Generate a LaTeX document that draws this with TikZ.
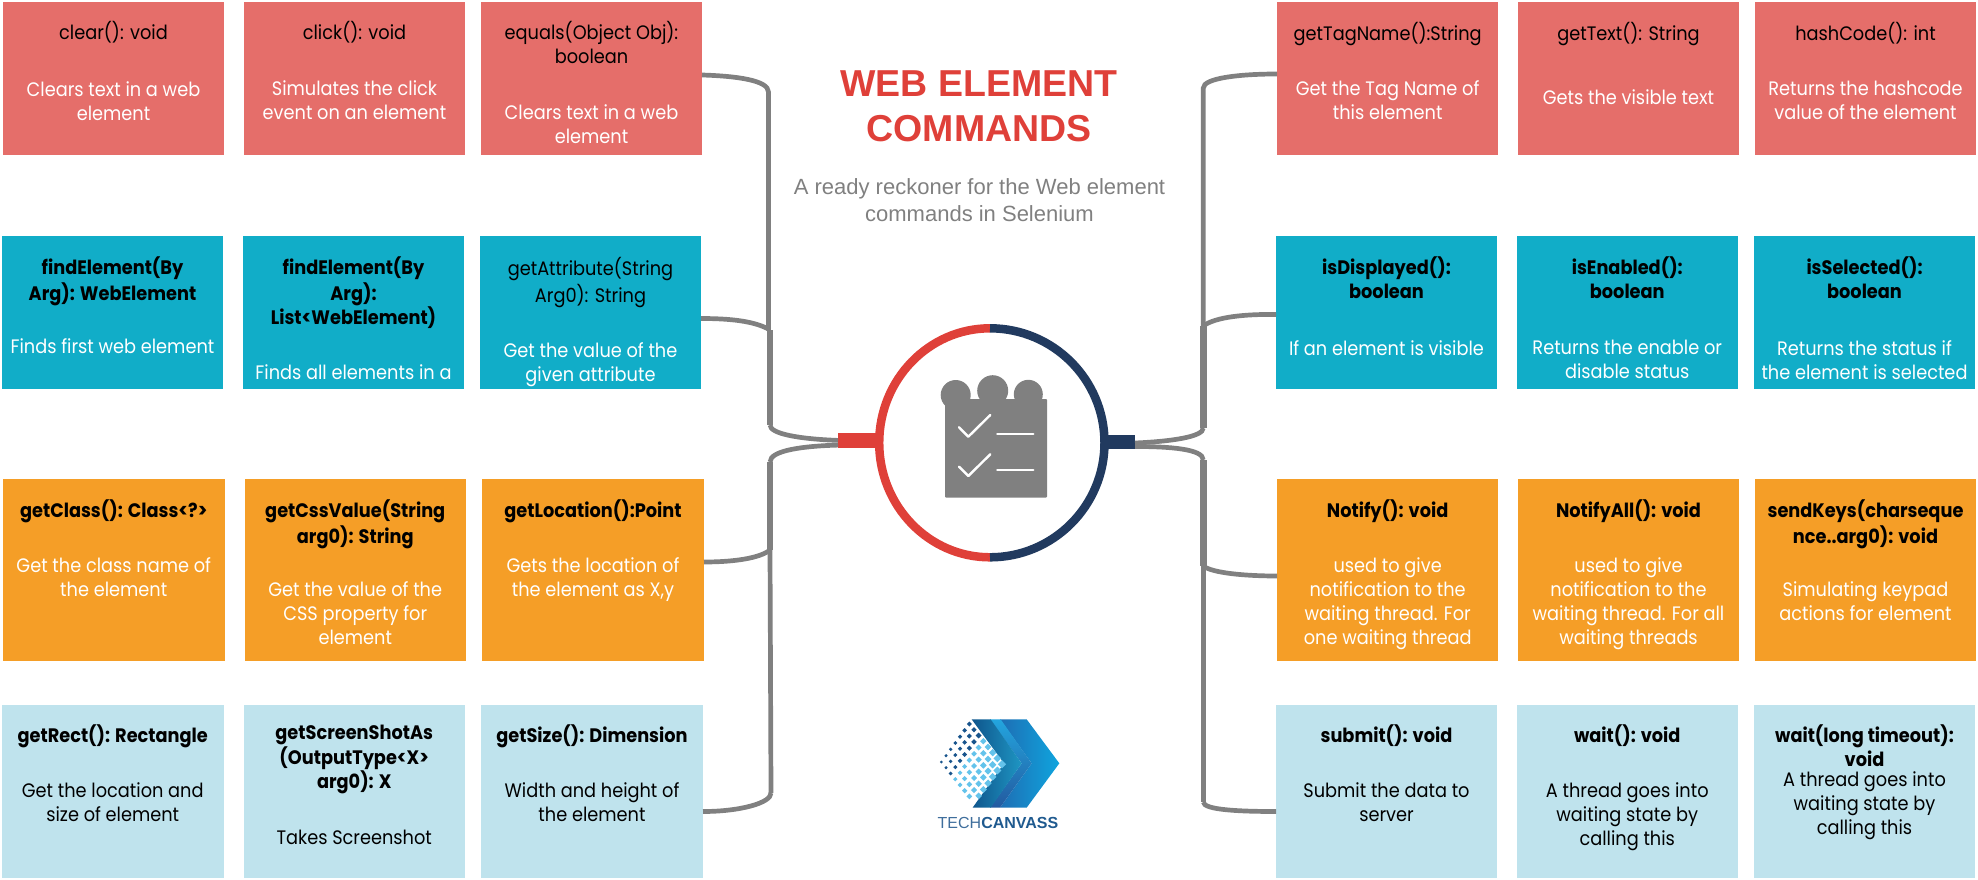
\documentclass[tikz,border=0pt]{standalone}
\usepackage{fontspec}
\setmainfont{Poppins}[FakeStretch=0.91]
\newfontfamily\arialf{Liberation Sans}
\usetikzlibrary{calc}
\definecolor{cred}{HTML}{E56E6A}
\definecolor{cteal}{HTML}{11ADC8}
\definecolor{corange}{HTML}{F59E27}
\definecolor{clight}{HTML}{BFE3ED}
\definecolor{tred}{HTML}{DF4039}
\definecolor{tnavy}{HTML}{213A5F}
\definecolor{cgray}{HTML}{808080}
\definecolor{lgA}{HTML}{1E6EB4}
\definecolor{lgB}{HTML}{0FA5DE}
\definecolor{lgC}{HTML}{23A5DE}
\definecolor{lgD}{HTML}{235AA0}
\definecolor{lgE}{HTML}{0F558C}
\definecolor{lgF}{HTML}{1E96C3}
\definecolor{lgdark}{HTML}{18548C}
\definecolor{lglight}{HTML}{64C3EB}
\definecolor{lgtech}{HTML}{3F6E9C}
\definecolor{lgcanv}{HTML}{1F5A8F}
\tikzset{
 cmdbox/.style={rectangle,inner sep=0pt,outer sep=0pt,draw=none},
 redbox/.style={cmdbox,fill=cred},
 tealbox/.style={cmdbox,fill=cteal},
 orangebox/.style={cmdbox,fill=corange},
 lightbox/.style={cmdbox,fill=clight},
 base text/.style={anchor=north,inner sep=0pt,align=center,font={\fontsize{19.5}{24}\selectfont}},
 tn/.style={base text,text=black,yshift=0.5pt},
 tb/.style={base text,text=black,yshift=0.5pt,font={\fontsize{19.5}{24}\selectfont\bfseries}},
 dw/.style={base text,text=white,yshift=-2pt},
 dk/.style={base text,text=black,yshift=-2pt},
 conn/.style={draw=cgray,line width=4.7pt},
 connthick/.style={draw=cgray,line width=6.6pt},
}
\newcommand{\cbox}[6]{\node[#2,minimum width={(#5-#3)*1pt},minimum height={(#6-#4)*1pt}] (#1) at ({(#3+#5)/2},{(#4+#6)/2}) {};}
\newcommand{\ctxt}[5]{\coordinate (tmp) at (0,#4-17); \node[#3] (#1#2) at (#1.center |- tmp) {\rule[-7pt]{0pt}{17pt}#5};}
\begin{document}
\begin{tikzpicture}[x=1pt,y=-1pt]
\useasboundingbox (0,0) rectangle (1978,880);
% boxes
\cbox{a1}{redbox}{3}{2}{224}{155}
\cbox{a2}{redbox}{244}{2}{465}{155}
\cbox{a3}{redbox}{481}{2}{702}{155}
\cbox{b1}{tealbox}{2}{236}{223}{389}
\cbox{b2}{tealbox}{243}{236}{464}{389}
\cbox{b3}{tealbox}{480}{236}{701}{389}
\cbox{c1}{orangebox}{3}{479}{224.5}{661}
\cbox{c2}{orangebox}{244.5}{479}{466}{661}
\cbox{c3}{orangebox}{482}{479}{704}{661}
\cbox{e1}{lightbox}{2}{705}{223.5}{878}
\cbox{e2}{lightbox}{243.5}{705}{465}{878}
\cbox{e3}{lightbox}{481}{705}{703}{878}
\cbox{f1}{redbox}{1277}{2}{1498.3}{155}
\cbox{f2}{redbox}{1518}{2}{1739}{155}
\cbox{f3}{redbox}{1755}{2}{1976}{155}
\cbox{g1}{tealbox}{1276}{236}{1497}{389}
\cbox{g2}{tealbox}{1517}{236}{1737.5}{389}
\cbox{g3}{tealbox}{1754}{236}{1975}{389}
\cbox{h1}{orangebox}{1277}{479}{1498.3}{661}
\cbox{h2}{orangebox}{1518}{479}{1739}{661}
\cbox{h3}{orangebox}{1755}{479}{1976}{661}
\cbox{k1}{lightbox}{1276}{705}{1497}{878}
\cbox{k2}{lightbox}{1517}{705}{1737.5}{878}
\cbox{k3}{lightbox}{1754}{705}{1975}{878}
% texts
\ctxt{a1}{t}{tn}{39}{clear(): void}
\ctxt{a1}{d}{dw}{96}{Clears text in a web\\element}
\ctxt{a2}{t}{tn}{39}{click(): void}
\ctxt{a2}{d}{dw}{95}{Simulates the click\\event on an element}
\ctxt{a3}{t}{tn}{39}{equals(Object Obj):\\boolean}
\ctxt{a3}{d}{dw}{119}{Clears text in a web\\element}
\ctxt{b1}{t}{tb}{274}{findElement(By\\Arg): WebElement}
\ctxt{b1}{d}{dw}{353}{Finds first web element}
\ctxt{b2}{t}{tb}{274}{findElement(By\\Arg):\\List<WebElement)}
\ctxt{b2}{d}{dw}{379}{Finds all elements in a}
\ctxt{b3}{t}{tn}{275}{getAttribute(String\\Arg0): String}
\ctxt{b3}{d}{dw}{357}{Get the value of the\\given attribute}
\ctxt{c1}{t}{tb}{517}{getClass(): Class<?>}
\ctxt{c1}{d}{dw}{572}{Get the class name of\\the element}
\ctxt{c2}{t}{tb}{517}{getCssValue(String\\arg0): String}
\ctxt{c2}{d}{dw}{596}{Get the value of the\\CSS property for\\element}
\ctxt{c3}{t}{tb}{517}{getLocation():Point}
\ctxt{c3}{d}{dw}{572}{Gets the location of\\the element as X,y}
\ctxt{e1}{t}{tb}{742}{getRect(): Rectangle}
\ctxt{e1}{d}{dk}{797}{Get the location and\\size of element}
\ctxt{e2}{t}{tb}{742}{getScreenShotAs\\(OutputType<X>\\arg0): X}
\ctxt{e2}{d}{dk}{845}{Takes Screenshot}
\ctxt{e3}{t}{tb}{742}{getSize(): Dimension}
\ctxt{e3}{d}{dk}{797}{Width and height of\\the element}
\ctxt{f1}{t}{tn}{40}{getTagName():String}
\ctxt{f1}{d}{dw}{95.5}{Get the Tag Name of\\this element}
\ctxt{f2}{t}{tn}{40}{getText(): String}
\ctxt{f2}{d}{dw}{104}{Gets the visible text}
\ctxt{f3}{t}{tn}{40}{hashCode(): int}
\ctxt{f3}{d}{dw}{95.5}{Returns the hashcode\\value of the element}
\ctxt{g1}{t}{tb}{274}{isDisplayed():\\boolean}
\ctxt{g1}{d}{dw}{355}{If an element is visible}
\ctxt{g2}{t}{tb}{274}{isEnabled():\\boolean}
\ctxt{g2}{d}{dw}{355}{Returns the enable or\\disable status}
\ctxt{g3}{t}{tb}{274}{isSelected():\\boolean}
\ctxt{g3}{d}{dw}{355}{Returns the status if\\the element is selected}
\ctxt{h1}{t}{tb}{517}{Notify(): void}
\ctxt{h1}{d}{dw}{572}{used to give\\notification to the\\waiting thread. For\\one waiting thread}
\ctxt{h2}{t}{tb}{517}{NotifyAll(): void}
\ctxt{h2}{d}{dw}{572}{used to give\\notification to the\\waiting thread. For all\\waiting threads}
\ctxt{h3}{t}{tb}{517}{sendKeys(charseque\\nce..arg0): void}
\ctxt{h3}{d}{dw}{596}{Simulating keypad\\actions for element}
\ctxt{k1}{t}{tb}{742}{submit(): void}
\ctxt{k1}{d}{dk}{797}{Submit the data to\\server}
\ctxt{k2}{t}{tb}{742}{wait(): void}
\ctxt{k2}{d}{dk}{797}{A thread goes into\\waiting state by\\calling this}
\ctxt{k3}{t}{tb}{742}{wait(long timeout):\\void}
\ctxt{k3}{d}{dk}{786}{A thread goes into\\waiting state by\\calling this}
% title
\node[anchor=base,inner sep=0pt,text=tred,font={\arialf\fontsize{37.5}{45}\selectfont\bfseries}] (title1) at (979,97) {WEB ELEMENT};
\node[anchor=base,inner sep=0pt,text=tred,font={\arialf\fontsize{37.5}{45}\selectfont\bfseries}] (title2) at (979,142) {COMMANDS};
\node[anchor=base,inner sep=0pt,text=cgray,font={\arialf\fontsize{22}{27}\selectfont}] (sub1) at (979.5,194) {A ready reckoner for the Web element};
\node[anchor=base,inner sep=0pt,text=cgray,font={\arialf\fontsize{22}{27}\selectfont}] (sub2) at (979.5,221) {commands in Selenium};
% bars
\node[cmdbox,fill=tred,minimum width=39pt,minimum height=14.5pt] (redbar) at (857.5,440.4) {};
\node[cmdbox,fill=tnavy,minimum width=27pt,minimum height=14pt] (navybar) at (1121.5,442) {};
% connectors
\coordinate (lj1) at (768.5,92);
\coordinate (lj2) at (770,330);
\coordinate (lj3) at (770,425);
\coordinate (lj4) at (770,462);
\coordinate (lj5) at (770,550);
\coordinate (lj6) at (771,793);
\coordinate (rj1) at (1203.3,88);
\coordinate (rj2) at (1203.3,326);
\coordinate (rj3) at (1203.3,428);
\coordinate (rj4) at (1203.3,460);
\coordinate (rj5) at (1203.3,566);
\coordinate (rj6) at (1203.3,802);
\draw[conn] ([yshift=3.5pt]a3.east) .. controls (735,76) and (768.5,80) .. (lj1) -- (lj1 |- lj2);
\draw[conn] ([yshift=-6pt]b3.east) .. controls (730,318.5) and (755,321) .. (lj2);
\draw[connthick] (lj2) -- (lj3);
\draw[conn] (lj3) .. controls (770,434) and (800,439) .. (redbar.west);
\draw[conn] ([yshift=-4.7pt]redbar.west) .. controls (805,446) and (770,450) .. (lj4);
\draw[connthick] (lj4) -- (lj5);
\draw[conn] (lj5) -- (lj6);
\draw[conn] ([yshift=8pt]c3.east) .. controls (735,562) and (760,558) .. (lj5);
\draw[conn] (lj6) .. controls (771,803) and (740,811.5) .. ([yshift=-20pt]e3.east);
\draw[conn] ([yshift=4.5pt]f1.west) .. controls (1240,74) and (1203.3,78) .. (rj1) -- (rj2);
\draw[conn] ([yshift=-2pt]g1.west) .. controls (1245,314) and (1215,317) .. (rj2);
\draw[connthick] (rj2) -- (rj3);
\draw[conn] (rj3) .. controls (1203.3,437) and (1170,441.5) .. ([yshift=-1pt]navybar.east);
\draw[conn] ([yshift=-4.5pt]navybar.east) .. controls (1170,446.5) and (1203.3,449) .. (rj4);
\draw[connthick] (rj4) -- (rj5);
\draw[conn] (rj5) -- (rj6);
\draw[conn] (rj5) .. controls (1212,573) and (1245,576) .. ([yshift=-6pt]h1.west);
\draw[conn] (rj6) .. controls (1203.3,810) and (1240,811.5) .. ([yshift=-20pt]k1.west);
% hub ring
\draw[tred,line width=8.5pt] (990,328.3) arc[start angle=270,end angle=90,x radius=110.8,y radius=114.5];
\draw[tnavy,line width=8.5pt] (990,328.3) arc[start angle=270,end angle=450,x radius=114.5,y radius=114.5];
% clipboard icon
\fill[cgray] (955.7,395) circle[radius=15];
\fill[cgray] (992.7,390.7) circle[radius=15.5];
\fill[cgray] (1028.3,394.3) circle[radius=14.5];
\fill[cgray,rounded corners=1pt] (945,399) rectangle (1047,497.7);
\draw[white,line width=2.4pt,line cap=round,line join=round] (959,427.3) -- (968.3,436.7) -- (990.3,415);
\draw[white,line width=2.4pt,line cap=round,line join=round] (959,466.7) -- (968.3,476) -- (990.3,454.3);
\draw[white,line width=2.4pt,line cap=round] (997.3,434) -- (1033.3,434);
\draw[white,line width=2.4pt,line cap=round] (997.3,470) -- (1033.3,470);
% logo
\begin{scope}[shift={(880,700)},x=0.3333pt,y=-0.3333pt]
\shade[left color=lgA,right color=lgB]
  (360,58) -- (440,58) -- (538,190) -- (440,323) -- (360,323) -- (455,190) -- cycle;
\shade[top color=lgC,bottom color=lgD]
  (330,58) -- (362,58) -- (455,190) -- (360,323) -- (330,323) -- (425,190) -- cycle;
\shade[left color=lgE,right color=lgF]
  (275,58) -- (332,58) -- (425,190) -- (332,323) -- (278,323) -- (372,190) -- cycle;
\foreach \gi in {0,...,7}{
  \foreach \gj in {0,...,6}{
    \pgfmathsetmacro{\lgx}{268+14*\gi-14*\gj}
    \pgfmathsetmacro{\lgy}{72+17.2*\gi+19*\gj}
    \pgfmathsetmacro{\lgs}{7.5+0.7*\gi-0.5*\gj}
    \ifnum\gi<3 \colorlet{lgcur}{lgdark}\else\colorlet{lgcur}{lglight}\fi
    \ifnum\numexpr\gi+\gj\relax<13
      \fill[lgcur] (\lgx-\lgs,\lgy) -- (\lgx,\lgy-\lgs) -- (\lgx+\lgs,\lgy) -- (\lgx,\lgy+\lgs) -- cycle;
    \fi
  }
}
\end{scope}
\node[anchor=base,inner sep=0pt,font={\arialf\fontsize{16}{18}\selectfont}] (logotext) at (998,828) {\textcolor{lgtech}{TECH}\textcolor{lgcanv}{\bfseries CANVASS}};
\end{tikzpicture}
\end{document}
